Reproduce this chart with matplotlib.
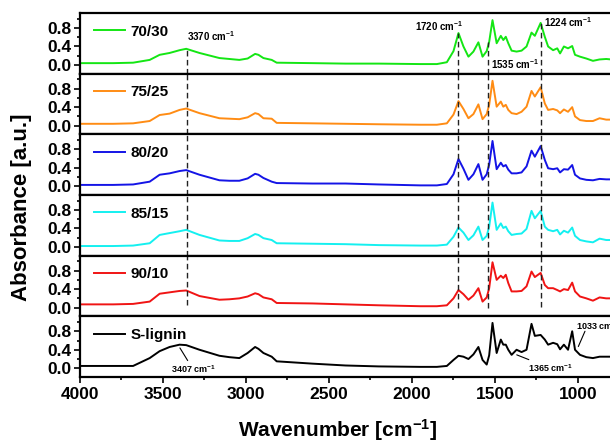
import numpy as np
import matplotlib
matplotlib.use("Agg")
import matplotlib.pyplot as plt
from matplotlib.ticker import MultipleLocator

plt.rcParams['font.family'] = ['Liberation Sans', 'DejaVu Sans']
plt.rcParams['font.weight'] = 'bold'
plt.rcParams['mathtext.fontset'] = 'custom'
plt.rcParams['mathtext.rm'] = 'Liberation Sans:bold'
plt.rcParams['mathtext.bf'] = 'Liberation Sans:bold'
plt.rcParams['mathtext.default'] = 'bf'

# wavenumber grid shared by all spectra
wn = [4000, 3800, 3680, 3580, 3520, 3460, 3400, 3360, 3280, 3160, 3100, 3040, 2990,
      2945, 2925, 2895, 2845, 2815, 2600, 2400, 2200, 1950, 1850, 1790, 1750, 1720,
      1690, 1660, 1630, 1600, 1575, 1550, 1535, 1515, 1490, 1465, 1450, 1435, 1420,
      1400, 1370, 1340, 1310, 1280, 1260, 1225, 1200, 1180, 1150, 1125, 1108, 1085,
      1060, 1035, 1018, 988, 950, 910, 870, 830, 800]

a_70_30 = [0.04, 0.04, 0.05, 0.11, 0.22, 0.26, 0.32, 0.35, 0.26, 0.15, 0.13, 0.11, 0.14,
           0.24, 0.22, 0.15, 0.11, 0.05, 0.04, 0.03, 0.03, 0.02, 0.02, 0.06, 0.30, 0.69,
           0.40, 0.18, 0.29, 0.49, 0.18, 0.30, 0.50, 0.97, 0.47, 0.63, 0.54, 0.61, 0.47,
           0.31, 0.29, 0.31, 0.40, 0.70, 0.63, 0.91, 0.61, 0.40, 0.32, 0.36, 0.25, 0.40,
           0.36, 0.41, 0.22, 0.18, 0.14, 0.09, 0.12, 0.13, 0.12]
a_75_25 = [0.04, 0.04, 0.05, 0.10, 0.23, 0.26, 0.34, 0.37, 0.27, 0.16, 0.15, 0.14, 0.18,
           0.27, 0.25, 0.16, 0.15, 0.06, 0.05, 0.04, 0.03, 0.02, 0.02, 0.05, 0.24, 0.53,
           0.36, 0.16, 0.25, 0.46, 0.14, 0.25, 0.45, 0.97, 0.41, 0.52, 0.41, 0.45, 0.34,
           0.27, 0.25, 0.30, 0.41, 0.75, 0.63, 0.83, 0.48, 0.34, 0.36, 0.33, 0.27, 0.35,
           0.30, 0.40, 0.20, 0.12, 0.10, 0.10, 0.16, 0.13, 0.13]
a_80_20 = [0.03, 0.03, 0.04, 0.10, 0.25, 0.28, 0.33, 0.35, 0.25, 0.13, 0.12, 0.12, 0.17,
           0.27, 0.25, 0.18, 0.10, 0.07, 0.06, 0.06, 0.04, 0.02, 0.02, 0.05, 0.26, 0.59,
           0.38, 0.14, 0.26, 0.48, 0.14, 0.26, 0.47, 0.98, 0.37, 0.51, 0.43, 0.46, 0.36,
           0.28, 0.28, 0.30, 0.43, 0.77, 0.64, 0.87, 0.57, 0.39, 0.37, 0.39, 0.30, 0.37,
           0.36, 0.46, 0.25, 0.17, 0.14, 0.13, 0.16, 0.15, 0.15]
a_85_15 = [0.02, 0.02, 0.03, 0.08, 0.26, 0.30, 0.34, 0.37, 0.26, 0.14, 0.13, 0.13, 0.19,
           0.28, 0.26, 0.19, 0.15, 0.08, 0.07, 0.06, 0.04, 0.03, 0.03, 0.05, 0.22, 0.42,
           0.31, 0.15, 0.25, 0.44, 0.15, 0.24, 0.44, 0.96, 0.37, 0.51, 0.41, 0.44, 0.34,
           0.26, 0.28, 0.29, 0.39, 0.78, 0.62, 0.78, 0.44, 0.37, 0.34, 0.37, 0.27, 0.35,
           0.31, 0.42, 0.24, 0.15, 0.12, 0.10, 0.18, 0.15, 0.15]
a_90_10 = [0.07, 0.07, 0.08, 0.13, 0.30, 0.33, 0.36, 0.37, 0.25, 0.17, 0.18, 0.20, 0.24,
           0.31, 0.29, 0.22, 0.18, 0.10, 0.09, 0.07, 0.05, 0.03, 0.03, 0.05, 0.20, 0.38,
           0.29, 0.17, 0.26, 0.42, 0.13, 0.22, 0.42, 0.98, 0.60, 0.69, 0.64, 0.71, 0.53,
           0.35, 0.35, 0.36, 0.46, 0.78, 0.66, 0.75, 0.49, 0.42, 0.42, 0.38, 0.35, 0.40,
           0.38, 0.54, 0.35, 0.24, 0.20, 0.15, 0.22, 0.20, 0.20]
a_slignin = [0.05, 0.05, 0.05, 0.22, 0.37, 0.46, 0.51, 0.50, 0.40, 0.27, 0.24, 0.22, 0.33,
             0.46, 0.42, 0.33, 0.25, 0.15, 0.10, 0.06, 0.04, 0.03, 0.03, 0.05, 0.18, 0.27,
             0.25, 0.20, 0.30, 0.46, 0.18, 0.08, 0.28, 0.98, 0.33, 0.62, 0.51, 0.51, 0.40,
             0.29, 0.40, 0.35, 0.40, 0.96, 0.70, 0.72, 0.62, 0.51, 0.55, 0.52, 0.41, 0.51,
             0.40, 0.80, 0.40, 0.29, 0.24, 0.22, 0.25, 0.25, 0.25]

labels = ["70/30", "75/25", "80/20", "85/15", "90/10", "S-lignin"]
series = [a_70_30, a_75_25, a_80_20, a_85_15, a_90_10, a_slignin]
colors = ["#14E614", "#FF8C14", "#1414E6", "#14F0F0", "#F01414", "#000000"]

# dashed marker lines: position, top value (in 70/30), bottom value (in 90/10)
vlines = [(3357, 0.35, 0.06), (1722, 0.69, 0.0), (1544, 0.50, 0.0), (1225, 0.91, 0.02)]

fig = plt.figure(figsize=(6.1, 4.45), dpi=100)
left, width = 0.1311, 0.9253
top, ph = 0.9708, 0.1363
ylo, yhi = -0.187, 1.124
axes = []
for i in range(6):
    ax = fig.add_axes([left, top - (i + 1) * ph, width, ph])
    ax.plot(wn, series[i], color=colors[i], lw=1.4, label=labels[i])
    ax.set_xlim(4000, 600)
    ax.set_ylim(ylo, yhi)
    ax.yaxis.set_minor_locator(MultipleLocator(0.2))
    ax.set_yticks([0.0, 0.4, 0.8])
    ax.set_yticklabels(["0.0", "0.4", "0.8"])
    ax.tick_params(axis='y', which='major', length=4, width=1.2, labelsize=12.5, pad=2)
    ax.tick_params(axis='y', which='minor', length=2.5, width=1.2)
    for s in ax.spines.values():
        s.set_linewidth(1.6)
    ax.legend(loc='center left', bbox_to_anchor=(0.025, 0.69), frameon=False,
              borderpad=0, borderaxespad=0, handlelength=2.0, handletextpad=0.4,
              prop={'weight': 'bold', 'size': 11})
    if i < 5:
        ax.tick_params(axis='x', which='both', bottom=False, labelbottom=False)
    axes.append(ax)

bax = axes[-1]
bax.xaxis.set_major_locator(MultipleLocator(500))
bax.xaxis.set_minor_locator(MultipleLocator(250))
bax.tick_params(axis='x', which='major', length=4, width=1.2, labelsize=12.5, pad=3)
bax.tick_params(axis='x', which='minor', length=2.5, width=1.2)

# dashed lines through the copolymer panels
frac = lambda v: (v - ylo) / (yhi - ylo)
for x, vt, vb in vlines:
    for i in range(5):
        y0 = frac(vb) if i == 4 else 0
        y1 = frac(vt) if i == 0 else 1
        axes[i].axvline(x, ymin=y0, ymax=y1, color='#222222', lw=1.0,
                        dashes=(4, 2.5))

ann = dict(fontsize=7, fontweight='bold')
axes[0].text(3357, 0.47, "3370 cm$^{-1}$", ha='left', va='bottom', **ann)
axes[0].text(1695, 0.84, "1720 cm$^{-1}$", ha='right', va='center', **ann)
axes[0].text(1526, 0.02, "1535 cm$^{-1}$", ha='left', va='center', **ann)
axes[0].text(1205, 0.92, "1224 cm$^{-1}$", ha='left', va='center', **ann)

line = dict(arrowstyle='-', color='black', lw=0.8, shrinkA=0, shrinkB=0)
small = dict(fontsize=6.5, fontweight='bold')
axes[5].annotate("3407 cm$^{-1}$", xy=(3398, 0.44), xytext=(3454, -0.02),
                 ha='left', va='center', arrowprops=line, **small)
axes[5].annotate("1365 cm$^{-1}$", xy=(1369, 0.29), xytext=(1300, 0.0),
                 ha='left', va='center', arrowprops=line, **small)
axes[5].text(1012, 0.92, "1033 cm$^{-1}$", ha='left', va='center', **small)
axes[5].annotate("", xy=(998, 0.47), xytext=(958, 0.80), arrowprops=line)

fig.text(338 / 610, 1 - 430 / 445, "Wavenumber [cm$^{-1}$]", ha='center', va='center',
         fontsize=15, fontweight='bold')
fig.text(22 / 610, 0.535, "Absorbance [a.u.]", rotation=90, ha='center', va='center',
         fontsize=16, fontweight='bold')

fig.savefig("out.png", dpi=100)
